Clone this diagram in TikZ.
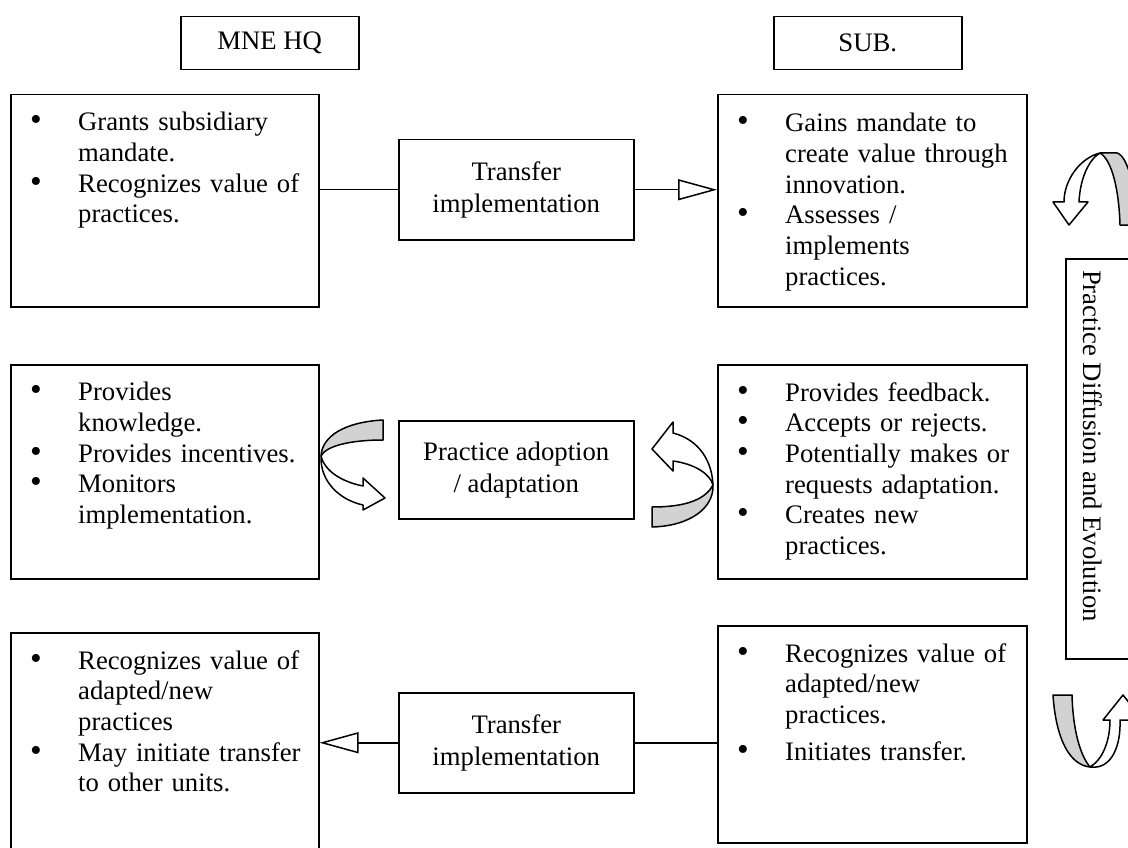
\documentclass[tikz,border=0pt]{standalone}
\usepackage{fontspec}
\setmainfont{Liberation Serif}
\usetikzlibrary{arrows.meta}
% one bulleted item with a hanging indent; lines inside it are broken with \newline
\newcommand{\bul}[1]{\noindent\hangindent=48pt\hangafter=1\makebox[48pt][l]{\scalebox{1.25}{\textbullet}}#1\par}
\begin{document}
\begin{tikzpicture}[x=1pt,y=-1pt,
  frame/.style={draw, line width=1.5pt, anchor=north west, inner sep=0pt},
  txt/.style={anchor=north west, inner sep=0pt, align=left, text width=300pt,
    font=\fontsize{26.7}{30.7}\selectfont},
  ctxt/.style={align=center, inner sep=0pt, font=\fontsize{26.7}{32}\selectfont},
  link/.style={line width=1.5pt},
  opentip/.style={-{Triangle[open, length=39pt, width=21pt, line width=1.5pt]}},
  ribbon/.style={draw, line width=1.5pt, line join=round},
]
\useasboundingbox (0,0) rectangle (1128,848);
\clip (0,0) rectangle (1128,848);

% headings
\node[frame, minimum width=178pt, minimum height=53pt] (hq) at (180,16) {};
\node[ctxt] at (hq.center) {MNE HQ};
\node[frame, minimum width=188pt, minimum height=53pt] (sub) at (773,16) {};
\node[ctxt] at (sub.center) {SUB.};

% row 1
\node[frame, minimum width=308pt, minimum height=212pt] (l1) at (10,94) {};
\node[txt] (l1t) at (30,112) {\bul{Grants subsidiary\newline mandate.}\bul{Recognizes value of\newline practices.}};
\node[frame, minimum width=235pt, minimum height=100pt] (m1) at (398,139) {};
\node[ctxt] at (m1.center) {Transfer\\implementation};
\node[frame, minimum width=309pt, minimum height=212pt] (r1) at (717,94) {};
\node[txt] (r1t) at (737,113) {\bul{Gains mandate to\newline create value through\newline innovation.}\bul{Assesses /\newline implements\newline practices.}};
\draw[link] (l1.east |- m1.west) -- (m1.west);
\draw[link, opentip] (m1.east) -- (r1.west |- m1.east);

% row 2
\node[frame, minimum width=308pt, minimum height=214pt] (l2) at (10,364) {};
\node[txt] (l2t) at (30,382) {\bul{Provides\newline knowledge.}\bul{Provides incentives.}\bul{Monitors\newline implementation.}};
\node[frame, minimum width=235pt, minimum height=98pt] (m2) at (398,420) {};
\node[ctxt] at (m2.center) {Practice adoption\\/ adaptation};
\node[frame, minimum width=309pt, minimum height=214pt] (r2) at (717,364) {};
\node[txt] (r2t) at (737,382) {\bul{Provides feedback.}\bul{Accepts or rejects.}\bul{Potentially makes or\newline requests adaptation.}\bul{Creates new\newline practices.}};

% row 3
\node[frame, minimum width=308pt, minimum height=230pt] (l3) at (10,632) {};
\node[txt] (l3t) at (30,650) {\bul{Recognizes value of\newline adapted/new\newline practices}\bul{May initiate transfer\newline to other units.}};
\node[frame, minimum width=235pt, minimum height=100pt] (m3) at (398,692) {};
\node[ctxt] at (m3.center) {Transfer\\implementation};
\node[frame, minimum width=309pt, minimum height=217pt] (r3) at (717,625) {};
\node[txt] (r3t) at (737,643) {\bul{Recognizes value of\newline adapted/new\newline practices.}\vspace{6pt}\bul{Initiates transfer.}};
\draw[link] (r3.west |- m3.east) -- (m3.east);
\draw[link, opentip] (m3.west) -- (l3.east |- m3.west);

% side label
\node[frame, minimum width=80pt, minimum height=400pt] (side) at (1065,258) {};
\node[rotate=-90, inner sep=0pt, font=\fontsize{26.7}{30}\selectfont] at (1093,446) {Practice Diffusion and Evolution};

% ribbon arrow left of the adoption box
\draw[ribbon, fill=gray!35] (383,420) .. controls (345,422) and (322,436) .. (321,456)
  .. controls (326,446) and (350,440) .. (383,440) -- cycle;
\draw[ribbon, fill=white] (321,456) .. controls (320,482) and (340,500) .. (363,505)
  -- (363,510) -- (385,498) -- (363,478) -- (363,486)
  .. controls (343,482) and (325,472) .. (321,456) -- cycle;

% ribbon arrow right of the adoption box
\draw[ribbon, fill=white] (713,485) .. controls (712,462) and (700,440) .. (673,433)
  -- (673,422) -- (652,449) -- (673,471) -- (673,461)
  .. controls (695,464) and (710,474) .. (713,485) -- cycle;
\draw[ribbon, fill=gray!35] (713,485) .. controls (714,508) and (690,526) .. (652,527)
  -- (652,507) .. controls (685,507) and (705,500) .. (713,485) -- cycle;

% ribbon arrow above the side label
\draw[ribbon, fill=gray!35] (1100,153) -- (1117,153) .. controls (1128,156) and (1136,190) .. (1137,225)
  -- (1120,225) .. controls (1119,190) and (1112,160) .. (1100,153) -- cycle;
\draw[ribbon, fill=white] (1100,153) .. controls (1080,158) and (1064,180) .. (1064,202)
  -- (1053,202) -- (1069,225) -- (1088,202) -- (1079,202)
  .. controls (1080,180) and (1088,160) .. (1100,153) -- cycle;

% ribbon arrow below the side label
\draw[ribbon, fill=gray!35] (1053,695) -- (1072,695) .. controls (1073,730) and (1080,755) .. (1090,767)
  .. controls (1070,765) and (1056,740) .. (1053,695) -- cycle;
\draw[ribbon, fill=white] (1090,767) .. controls (1112,770) and (1121,745) .. (1120,720)
  -- (1143,720) -- (1123,695) -- (1103,720) -- (1110,720)
  .. controls (1110,742) and (1102,760) .. (1090,767) -- cycle;
\end{tikzpicture}
\end{document}
